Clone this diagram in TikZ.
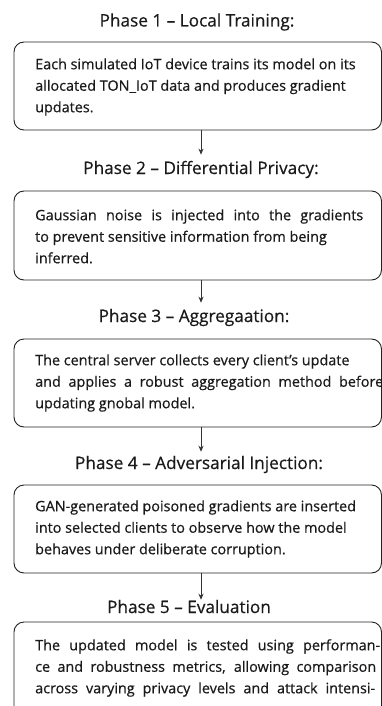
\documentclass[tikz,border=0pt]{standalone}
\usepackage{fontspec}
\setmainfont{Open Sans}[BoldFont=Open Sans, BoldFeatures={FakeBold=0.5}]
\usetikzlibrary{arrows.meta}

\definecolor{ink}{HTML}{1A1A1A}
\definecolor{edge}{HTML}{222222}
\definecolor{arrowgray}{HTML}{333333}

% uniform line height for the first and last line of each text block
\newcommand\fixht{\vphantom{dg}}
% a line whose inter-word spaces are stretched to the given width
\newcommand\spreadline[2]{\makebox[#1][s]{#2}}

\begin{document}
\begin{tikzpicture}[x=1pt,y=-1pt,
  phasebox/.style={draw=edge, line width=0.9pt, rounded corners=10pt,
    minimum width=367.5pt, inner sep=0pt},
  phasetitle/.style={font=\fontsize{17.2}{20}\selectfont\bfseries, text=ink,
    inner sep=0pt, anchor=base},
  bodytext/.style={font=\fontsize{14.4}{21.5}\selectfont\bfseries, text=ink,
    inner sep=0pt, anchor=west, align=left},
  flow/.style={draw=arrowgray, line width=0.8pt,
    -{Stealth[length=6pt,width=5pt]}}]

\useasboundingbox (0,0) rectangle (382,706);
\clip (0,0) rectangle (382,706);
\fill[white] (0,0) rectangle (382,706);

% phase titles
\node[phasetitle] (p1) at (197,26.5) {Phase 1 – Local Training:};
\node[phasetitle] (p2) at (201,174) {Phase 2 – Differential Privacy:};
\node[phasetitle] (p3) at (194,322) {Phase 3 – Aggregaation:};
\node[phasetitle] (p4) at (199,469) {Phase 4 – Adversarial Injection:};
\node[phasetitle] (p5) at (189,613) {Phase 5 – Evaluation};

% rounded boxes
\node[phasebox, minimum height=88pt] (b1) at (197.75,86) {};
\node[phasebox, minimum height=89pt] (b2) at (197.75,235.5) {};
\node[phasebox, minimum height=88pt] (b3) at (197.75,383) {};
\node[phasebox, minimum height=88pt] (b4) at (197.75,529) {};
\node[phasebox, minimum height=110pt] (b5) at (197.75,677) {};

% box texts
\node[bodytext] (t1) at (35,87) {\fixht Each simulated IoT device trains its model on its\\
  allocated TON\_IoT data and produces gradient\\
  updates.\fixht};
\node[bodytext] (t2) at (35,238) {\fixht\spreadline{328pt}{Gaussian noise is injected into the gradients}\\
  to prevent sensitive information from being\\
  inferred.\fixht};
\node[bodytext] (t3) at (35,383) {\fixht The central server collects every client’s update\\
  \spreadline{348pt}{and applies a robust aggregation method before}\\
  updating gnobal model.\fixht};
\node[bodytext] (t4) at (35,529) {\fixht GAN-generated poisoned gradients are inserted\\
  into selected clients to observe how the model\\
  behaves under deliberate corruption.\fixht};
\node[bodytext] (t5) at (35,668) {\fixht\spreadline{345pt}{The updated model is tested using performan-}\\
  \spreadline{341pt}{ce and robustness metrics, allowing comparison}\\
  \spreadline{340pt}{across varying privacy levels and attack intensi-}\fixht};

% connectors
\draw[flow, shorten >=6pt] (b1.south -| 201,0) -- (p2.north -| 201,0);
\draw[flow, shorten >=6pt] (b2.south -| 201,0) -- (p3.north -| 201,0);
\draw[flow, shorten >=4pt] (b3.south -| 201,0) -- (p4.north -| 201,0);
\draw[flow, shorten >=0pt] (b4.south -| 201,0) -- (p5.north -| 201,0);
\end{tikzpicture}
\end{document}
